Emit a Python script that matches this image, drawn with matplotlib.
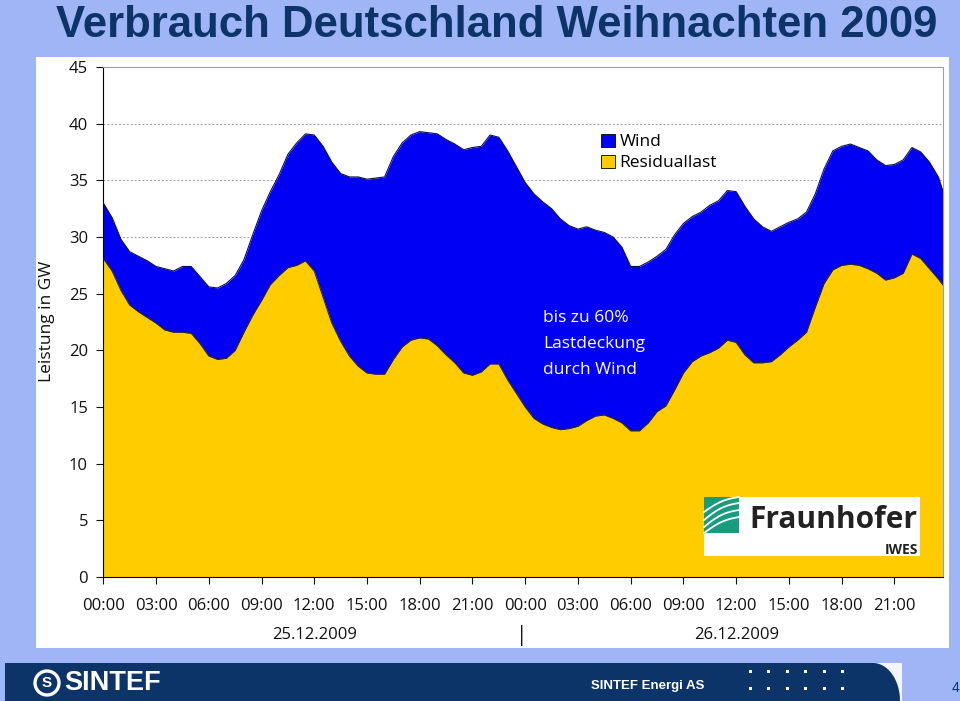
import numpy as np
import matplotlib.pyplot as plt
import matplotlib.transforms as mtrans
from matplotlib.patches import Rectangle, Polygon, Ellipse

# Stunden ab 25.12.2009 00:00
stunden = [
    0.0, 0.5, 1.0, 1.5, 2.0, 2.5, 3.0, 3.5, 4.0, 4.5, 5.0, 5.5,
    6.0, 6.5, 7.0, 7.5, 8.0, 8.5, 9.0, 9.5, 10.0, 10.5, 11.0, 11.5,
    12.0, 12.5, 13.0, 13.5, 14.0, 14.5, 15.0, 15.5, 16.0, 16.5, 17.0, 17.5,
    18.0, 18.5, 19.0, 19.5, 20.0, 20.5, 21.0, 21.5, 22.0, 22.5, 23.0, 23.5,
    24.0, 24.5, 25.0, 25.5, 26.0, 26.5, 27.0, 27.5, 28.0, 28.5, 29.0, 29.5,
    30.0, 30.5, 31.0, 31.5, 32.0, 32.5, 33.0, 33.5, 34.0, 34.5, 35.0, 35.5,
    36.0, 36.5, 37.0, 37.5, 38.0, 38.5, 39.0, 39.5, 40.0, 40.5, 41.0, 41.5,
    42.0, 42.5, 43.0, 43.5, 44.0, 44.5, 45.0, 45.5, 46.0, 46.5, 47.0, 47.5, 47.75,
]

# Gesamtverbrauch (Oberkante Wind) in GW
verbrauch = [
    33.0, 31.7, 29.8, 28.7, 28.3, 27.9, 27.4, 27.2, 27.0, 27.4, 27.4, 26.5,
    25.6, 25.5, 25.9, 26.6, 28.0, 30.2, 32.3, 34.0, 35.5, 37.3, 38.3, 39.1,
    39.0, 38.0, 36.6, 35.6, 35.3, 35.3, 35.1, 35.2, 35.3, 37.1, 38.3, 39.0,
    39.3, 39.2, 39.1, 38.6, 38.2, 37.7, 37.9, 38.0, 39.0, 38.8, 37.6, 36.2,
    34.8, 33.8, 33.1, 32.5, 31.6, 31.0, 30.7, 30.9, 30.6, 30.4, 30.0, 29.1,
    27.4, 27.4, 27.8, 28.3, 28.9, 30.2, 31.2, 31.8, 32.2, 32.8, 33.2, 34.1,
    34.0, 32.7, 31.6, 30.9, 30.5, 30.9, 31.3, 31.6, 32.2, 33.8, 36.0, 37.6,
    38.0, 38.2, 37.9, 37.6, 36.8, 36.3, 36.4, 36.8, 37.9, 37.5, 36.6, 35.3, 34.1,
]

# Residuallast in GW
residuallast = [
    28.1, 27.0, 25.3, 24.0, 23.4, 22.9, 22.4, 21.8, 21.6, 21.6, 21.5, 20.6,
    19.5, 19.2, 19.3, 20.0, 21.6, 23.1, 24.4, 25.8, 26.6, 27.3, 27.5, 27.9,
    27.0, 24.7, 22.4, 20.8, 19.5, 18.6, 18.0, 17.9, 17.9, 19.2, 20.3, 20.9,
    21.1, 21.0, 20.4, 19.6, 18.9, 18.0, 17.8, 18.1, 18.8, 18.8, 17.4, 16.2,
    15.0, 14.0, 13.5, 13.2, 13.0, 13.1, 13.3, 13.8, 14.2, 14.3, 14.0, 13.6,
    12.9, 12.9, 13.6, 14.6, 15.1, 16.5, 18.0, 19.0, 19.5, 19.8, 20.2, 20.9,
    20.7, 19.6, 18.9, 18.9, 19.0, 19.6, 20.3, 20.9, 21.6, 23.8, 25.9, 27.1,
    27.5, 27.6, 27.5, 27.2, 26.8, 26.2, 26.4, 26.8, 28.5, 28.1, 27.2, 26.3, 25.8,
]

tick_stunden = list(range(0, 48, 3))
tick_labels = ["00:00", "03:00", "06:00", "09:00", "12:00", "15:00", "18:00", "21:00"] * 2
tage = ["25.12.2009", "26.12.2009"]
tag_mitte = [12, 36]

W, H = 960, 701
BG = "#a0b5f6"
NAVY = "#0c3468"
BLAU = "#0000f5"
GELB = "#ffcc00"
FONT = "Open Sans"


def fx(x):
    return x / W


def fy(y):
    return 1 - y / H


def main():
    fig = plt.figure(figsize=(9.6, 7.01), dpi=100, facecolor=BG)

    # Titel
    fig.text(fx(497), fy(37), "Verbrauch Deutschland Weihnachten 2009",
             ha="center", va="baseline", fontsize=31.5, fontweight="bold",
             color=NAVY, family="Liberation Sans")

    # weisse Folienflaeche
    fig.patches.append(Rectangle((fx(36), fy(648)), fx(949) - fx(36), fy(57) - fy(648),
                                 transform=fig.transFigure, facecolor="white",
                                 edgecolor="none", zorder=-5))

    ax = fig.add_axes([fx(103.3), fy(577), fx(942.7) - fx(103.3), fy(67) - fy(577)])
    ax.set_facecolor("white")
    ax.fill_between(stunden, 0, residuallast, color=GELB, lw=0, label="Residuallast", zorder=2)
    ax.fill_between(stunden, residuallast, verbrauch, color=BLAU, lw=0, label="Wind", zorder=2)
    ax.plot(stunden, verbrauch, color="#10104a", lw=0.8, zorder=3)
    ax.plot(stunden, residuallast, color="#2a2a20", lw=0.8, zorder=3)

    ax.set_xlim(0, 47.75)
    ax.set_ylim(0, 45)
    ax.set_yticks(range(0, 46, 5))
    ax.set_xticks(tick_stunden)
    ax.set_xticklabels(tick_labels)
    ax.yaxis.grid(True, linestyle=(0, (2, 2)), color="#9a9a9a", lw=0.7, zorder=0)
    ax.set_axisbelow(True)
    for s in ["top", "right"]:
        ax.spines[s].set_color("#a0a0a0")
        ax.spines[s].set_linewidth(0.8)
    ax.spines["left"].set_color("black")
    ax.spines["bottom"].set_color("black")
    ax.tick_params(axis="y", direction="out", length=5, width=0.8, pad=6,
                   labelsize=12, labelfontfamily=FONT, colors="#111111")
    ax.tick_params(axis="x", direction="out", length=5, width=0.8, pad=10,
                   labelsize=12, labelfontfamily=FONT, colors="#111111")

    # Datumszeilen: x in Stunden, y in Figurkoordinaten
    trans = mtrans.blended_transform_factory(ax.transData, fig.transFigure)
    for t, d in zip(tag_mitte, tage):
        ax.text(t, fy(635), d, transform=trans, ha="center", va="center",
                fontsize=12, family=FONT, color="#111111")
    ax.text(23.8, fy(636), "|", transform=trans, ha="center", va="center",
            fontsize=15, family=FONT, color="#111111")

    fig.text(fx(47), fy(321), "Leistung in GW", rotation=90, ha="center",
             va="center", fontsize=12.5, family=FONT, color="#111111")

    # Legende
    handles, labels = ax.get_legend_handles_labels()
    leg = ax.legend(handles[::-1], labels[::-1], loc="upper left",
                    bbox_to_anchor=(fx(585), fy(118)), bbox_transform=fig.transFigure,
                    frameon=False, handlelength=0.8, handleheight=0.8,
                    handletextpad=0.3, labelspacing=0.25,
                    prop={"family": FONT, "size": 12.5})
    for h in leg.legend_handles:
        h.set_edgecolor("black")
        h.set_linewidth(0.6)

    ax.text(25.0, 23.55, "bis zu 60%\nLastdeckung\ndurch Wind", color="white",
            ha="left", va="top", fontsize=12.5, family=FONT, linespacing=1.85, zorder=5)

    # Fraunhofer Logo
    fig.patches.append(Rectangle((fx(704), fy(556)), fx(920) - fx(704), fy(497) - fy(556),
                                 transform=fig.transFigure, facecolor="white",
                                 edgecolor="none", zorder=5))
    fig.patches.append(Rectangle((fx(704), fy(533)), fx(739) - fx(704), fy(497) - fy(533),
                                 transform=fig.transFigure, facecolor="#179c7d",
                                 edgecolor="none", zorder=6))
    u = np.linspace(0, 1, 30)
    for y0, y1, bend in [(512, 497, 6), (520, 503, 7), (527, 510, 7), (533, 517, 6)]:
        xs = 704 + 35 * u
        ys = y0 + (y1 - y0) * u - bend * np.sin(np.pi * u) * 0.5
        fig.lines.append(plt.Line2D(fx(xs), fy(ys), transform=fig.transFigure,
                                    color="white", lw=1.3, zorder=7))
    fig.text(fx(833), fy(520), "Fraunhofer", ha="center", va="center",
             fontsize=21.5, fontweight="bold", family=FONT, color="#222222", zorder=7)
    fig.text(fx(918), fy(550), "IWES", ha="right", va="center",
             fontsize=10, fontweight="bold", family=FONT, color="#222222", zorder=7)

    # Fusszeile
    fig.patches.append(Rectangle((fx(873), fy(701)), fx(902) - fx(873), fy(663) - fy(701),
                                 transform=fig.transFigure, facecolor="#f4f6fc",
                                 edgecolor="none", zorder=1))
    a = np.linspace(0, np.pi / 2, 30)
    kurve = [(fx(873 + 27 * np.sin(t)), fy(663 + 38 * (1 - np.cos(t)))) for t in a]
    band = [(fx(5), fy(701)), (fx(5), fy(663))] + kurve + [(fx(900), fy(701))]
    fig.patches.append(Polygon(band, closed=True, transform=fig.transFigure,
                               facecolor=NAVY, edgecolor="none", zorder=2))
    fig.patches.append(Ellipse((fx(47), fy(683)), 24 / W, 24 / H, transform=fig.transFigure,
                               facecolor="none", edgecolor="white", lw=2.4, zorder=3))
    fig.text(fx(47), fy(683), "S", ha="center", va="center", fontsize=11,
             fontweight="bold", color="white", family="Liberation Sans", zorder=3)
    fig.text(fx(64), fy(683), "SINTEF", ha="left", va="center", fontsize=19.5,
             fontweight="bold", color="white", family="Liberation Sans", zorder=3)
    fig.text(fx(648), fy(686), "SINTEF Energi AS", ha="center", va="center", fontsize=9.5,
             fontweight="bold", color="white", family="Liberation Sans", zorder=3)
    for row in [671, 688]:
        for i in range(6):
            fig.patches.append(Rectangle((fx(749 + 18.4 * i), fy(row + 1.5)), 3 / W, 3 / H,
                                         transform=fig.transFigure, facecolor="white",
                                         edgecolor="none", zorder=3))
    fig.text(fx(955), fy(688), "4", ha="center", va="center", fontsize=10,
             color=NAVY, family="Liberation Sans")

    fig.savefig("out.png", dpi=100, facecolor=BG)


if __name__ == "__main__":
    main()
